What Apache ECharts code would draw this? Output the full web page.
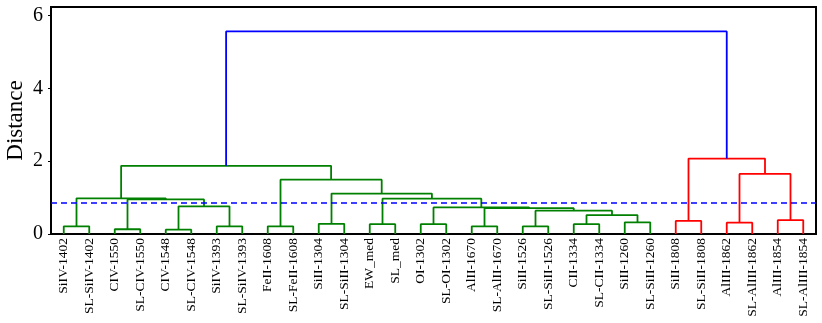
<!DOCTYPE html>
<html>
<head>
<meta charset="utf-8">
<script src="https://cdn.jsdelivr.net/npm/echarts@6/dist/echarts.min.js"></script>
<style>
  html, body { margin: 0; padding: 0; background: #fff; }
  #chart { width: 822px; height: 323px; }
</style>
</head>
<body>
<div id="chart"></div>
<script>
// leaf labels, left to right
var leaves = [
    'SiIV-1402', 'SL-SiIV-1402', 'CIV-1550', 'SL-CIV-1550', 'CIV-1548', 'SL-CIV-1548',
    'SiIV-1393', 'SL-SiIV-1393', 'FeII-1608', 'SL-FeII-1608', 'SiII-1304', 'SL-SiII-1304',
    'EW_med', 'SL_med', 'OI-1302', 'SL-OI-1302', 'AlII-1670', 'SL-AlII-1670',
    'SiII-1526', 'SL-SiII-1526', 'CII-1334', 'SL-CII-1334', 'SiII-1260', 'SL-SiII-1260',
    'SiII-1808', 'SL-SiII-1808', 'AlIII-1862', 'SL-AlIII-1862', 'AlIII-1854', 'SL-AlIII-1854'
];

// merges: [left node, right node, distance]; new node ids start at leaves.length (30)
var merges = [
    [0, 1, 0.21], [2, 3, 0.13], [4, 5, 0.12], [6, 7, 0.21], [8, 9, 0.21],
    [10, 11, 0.28], [12, 13, 0.27], [14, 15, 0.27], [16, 17, 0.21], [18, 19, 0.21],
    [20, 21, 0.27], [22, 23, 0.32], [24, 25, 0.36], [26, 27, 0.31], [28, 29, 0.38],
    [32, 33, 0.76],   // 45
    [31, 45, 0.95],   // 46
    [30, 46, 0.98],   // 47
    [40, 41, 0.52],   // 48
    [39, 48, 0.64],   // 49
    [38, 49, 0.71],   // 50
    [37, 50, 0.73],   // 51
    [36, 51, 0.97],   // 52
    [35, 52, 1.11],   // 53
    [34, 53, 1.49],   // 54
    [47, 54, 1.87],   // 55
    [43, 44, 1.65],   // 56
    [42, 56, 2.07],   // 57
    [55, 57, 5.56]    // 58
];

var cutLine = 0.85;
var yTicks = [0, 2, 4, 6];

var clusterColors = ['#008000', '#ff0000'];
var aboveColor = '#0000ff';
var serif = 'Liberation Serif';

// node positions
var n = leaves.length;
var nodeX = leaves.map(function (_, i) { return i + 0.5; });
var nodeH = leaves.map(function () { return 0; });
merges.forEach(function (m) {
    nodeX.push((nodeX[m[0]] + nodeX[m[1]]) / 2);
    nodeH.push(m[2]);
});

// colour links like scipy: below 0.7*max each cluster gets its own colour
var maxH = Math.max.apply(null, merges.map(function (m) { return m[2]; }));
var colorThreshold = 0.7 * maxH;
var linkColor = [];
var next = 0;
function paint(node, color) {
    if (node < n) return;
    var m = merges[node - n];
    var c = color;
    if (!c && m[2] < colorThreshold) c = clusterColors[next++ % clusterColors.length];
    linkColor[node - n] = c || aboveColor;
    paint(m[0], c);
    paint(m[1], c);
}
paint(nodeX.length - 1, null);

var series = merges.map(function (m, k) {
    var a = m[0], b = m[1], h = m[2];
    return {
        type: 'line',
        xAxisIndex: 1,
        data: [[nodeX[a], nodeH[a]], [nodeX[a], h], [nodeX[b], h], [nodeX[b], nodeH[b]]],
        symbol: 'none',
        silent: true,
        lineStyle: { color: linkColor[k], width: 1.8 }
    };
});

series.push({
    type: 'line',
    xAxisIndex: 1,
    data: [[0, cutLine], [n, cutLine]],
    symbol: 'none',
    silent: true,
    lineStyle: { color: aboveColor, width: 1.5, type: [6, 4] }
});

var option = {
    animation: false,
    grid: {
        left: 51, right: 6, top: 7, bottom: 89,
        outerBoundsMode: 'none',
        containLabel: false,
        show: true, borderColor: '#000', borderWidth: 2
    },
    xAxis: [{
        type: 'category',
        data: leaves,
        boundaryGap: true,
        axisLine: { show: false },
        axisTick: { show: false },
        axisLabel: {
            rotate: 90, interval: 0, margin: 4,
            fontFamily: serif, fontSize: 13.5, color: '#000'
        }
    }, {
        type: 'value',
        min: 0, max: n,
        show: false
    }],
    yAxis: {
        type: 'value',
        min: 0, max: 6.23, interval: 2,
        name: 'Distance',
        nameLocation: 'middle',
        nameGap: 24,
        nameMoveOverlap: false,
        nameTextStyle: { fontFamily: serif, fontSize: 23, color: '#000' },
        axisLine: { show: false },
        splitLine: { show: false },
        axisTick: { show: true, length: 3, lineStyle: { color: '#000' }, customValues: yTicks },
        axisLabel: { fontFamily: serif, fontSize: 20, color: '#000', margin: 8, customValues: yTicks }
    },
    series: series
};

var chart = echarts.init(document.getElementById('chart'));
chart.setOption(option);
</script>
</body>
</html>
